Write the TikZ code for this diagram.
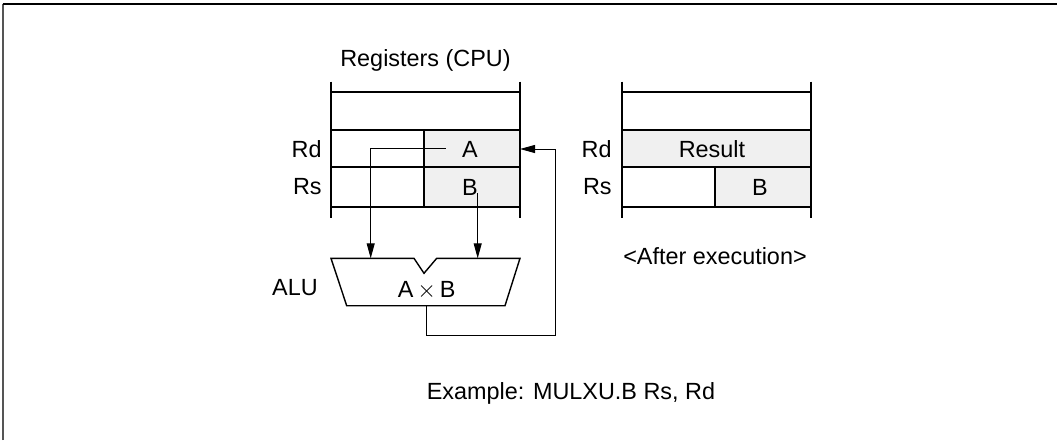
\documentclass[tikz,border=0pt]{standalone}
\usepackage{fontspec}
\setmainfont{Liberation Sans}
\usetikzlibrary{arrows.meta}
\definecolor{cellgray}{HTML}{F0F0F0}
\definecolor{framegray}{HTML}{555555}
\tikzset{
  reg/.style={line width=1pt, black},
  conn/.style={line width=0.5pt, black},
  arr/.style={conn, -{Triangle[length=7.5pt,width=4pt]}},
  lbl/.style={inner sep=0pt, font=\fontsize{11.7}{14}\selectfont},
  grayfill/.style={fill=cellgray}
}
\begin{document}
\begin{tikzpicture}[x=0.5pt,y=-0.5pt]
\useasboundingbox (0,0) rectangle (1057,440);
% frame
\draw[line width=1pt, framegray] (2.5,440) -- (2.5,4);
\draw[line width=0.8pt, black] (2.5,4) -- (1057,4);

% ---------- left register block ----------
\fill[grayfill] (424,130) rectangle (520,206.7);
\draw[reg] (331,81.7) -- (331,218);
\draw[reg] (520,81.7) -- (520,218);
\draw[reg] (331,92.3) -- (520,92.3);
\draw[reg] (331,130) -- (520,130);
\draw[reg] (331,167.3) -- (520,167.3);
\draw[reg] (331,206.7) -- (520,206.7);
\draw[reg] (424,130) -- (424,206.7);

\node[lbl] (regtitle) at (425.5,60) {Registers (CPU)};
\node[lbl, anchor=east] (rd1) at (322,149) {Rd};
\node[lbl, anchor=east] (rs1) at (322,187) {Rs};
\node[lbl] (A) at (470,149) {A};
\node[lbl] (B) at (470,187) {B};

% ---------- ALU ----------
\draw[reg, line width=0.7pt] (331,258.3) -- (414,258.3) -- (424,273.3) -- (436.7,258.3)
   -- (520,258.3) -- (505,305.7) -- (346.7,305.7) -- cycle;
\node[lbl] (alu) at (426.7,290) {A\,$\times$\,B};
\node[lbl] (alulbl) at (295,288) {ALU};

\coordinate (aSrc) at (445.7,148.3);
\coordinate (aluInA) at (370.7,258.3);
\coordinate (bSrc) at (477.7,193);
\coordinate (aluInB) at (477.7,258.3);
\coordinate (aluOut) at (426.7,305.7);
\coordinate (c1) at (426.7,335);
\coordinate (c2) at (555,335);
\coordinate (c3) at (555,149);
\coordinate (rdIn) at (520,149);

\draw[arr] (aSrc) -| (aluInA);
\draw[arr] (bSrc) -- (aluInB);
\draw[arr] (aluOut) -- (c1) -- (c2) -- (c3) -- (rdIn);

% ---------- right register block ----------
\fill[grayfill] (622,130) rectangle (811,167.3);
\fill[grayfill] (715,167.3) rectangle (811,206.7);
\draw[reg] (622,81.7) -- (622,218);
\draw[reg] (811,81.7) -- (811,218);
\draw[reg] (622,92.3) -- (811,92.3);
\draw[reg] (622,130) -- (811,130);
\draw[reg] (622,167.3) -- (811,167.3);
\draw[reg] (622,206.7) -- (811,206.7);
\draw[reg] (715,167.3) -- (715,206.7);

\node[lbl, anchor=east] (rd2) at (612,149) {Rd};
\node[lbl, anchor=east] (rs2) at (612,187) {Rs};
\node[lbl] (result) at (712,149) {Result};
\node[lbl] (B2) at (760,187) {B};
\node[lbl] (after) at (715,256) {<After execution>};

\node[lbl] (example) at (571,393) {Example: MULXU.B Rs, Rd};
\end{tikzpicture}
\end{document}
